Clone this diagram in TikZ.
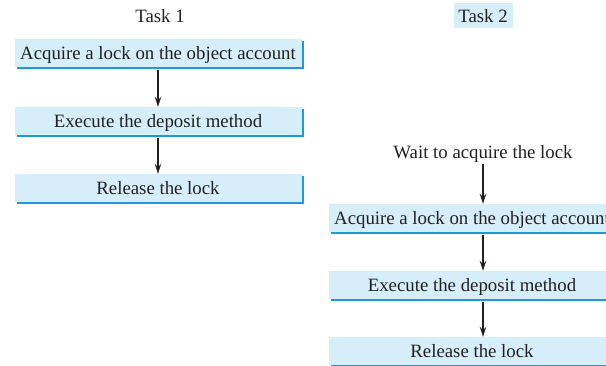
\documentclass[tikz,border=0pt]{standalone}
\usepackage{fontspec}
\setmainfont{Liberation Serif}
\usepackage{xcolor}
\usetikzlibrary{shapes, arrows.meta, positioning, shadows}
\definecolor{boxfill}{HTML}{D5EEFA}
\definecolor{boxshadow}{HTML}{1B9AD7}
\definecolor{ink}{HTML}{231F20}

\begin{document}
\begin{tikzpicture}[x=1pt, y=1pt,
  action/.style={rectangle, fill=boxfill, minimum width=287pt, minimum height=28pt, inner sep=0pt,
    text height=16pt, text depth=3pt, text=ink, font=\fontsize{18.8}{22}\selectfont,
    drop shadow={shadow xshift=2.5pt, shadow yshift=-2.5pt, fill=boxshadow, opacity=1}},
  caption/.style={inner sep=2pt, text height=16pt, text depth=3pt, text=ink, font=\fontsize{18.8}{22}\selectfont},
  flow/.style={-{Stealth[length=10pt, width=6.5pt]}, line width=1.4pt, ink}
]
\clip (0,0) rectangle (606,-366);

% Task 1
\node[caption] (task1) at (160,-16) {Task 1};
\node[action] (acquire1) at (158,-53) {Acquire a lock on the object account};
\node[action] (execute1) at (158,-121) {Execute the deposit method};
\node[action] (release1) at (158,-188) {Release the lock};

\draw [flow, shorten <=2.5pt] (acquire1) -- (execute1);
\draw [flow, shorten <=2.5pt] (execute1) -- (release1);

% Task 2
\node[caption, fill=boxfill, minimum width=59pt, minimum height=25pt] (task2) at (483,-16) {Task 2};
\node[caption] (wait) at (483,-152) {Wait to acquire the lock};
\node[action] (acquire2) at (472,-218) {Acquire a lock on the object account};
\node[action] (execute2) at (472,-285) {Execute the deposit method};
\node[action] (release2) at (472,-351) {Release the lock};

\draw [flow] (wait) -- (acquire2.north -| wait);
\draw [flow, shorten <=2.5pt] (acquire2.south -| wait) -- (execute2.north -| wait);
\draw [flow, shorten <=2.5pt] (execute2.south -| wait) -- (release2.north -| wait);

\end{tikzpicture}
\end{document}
